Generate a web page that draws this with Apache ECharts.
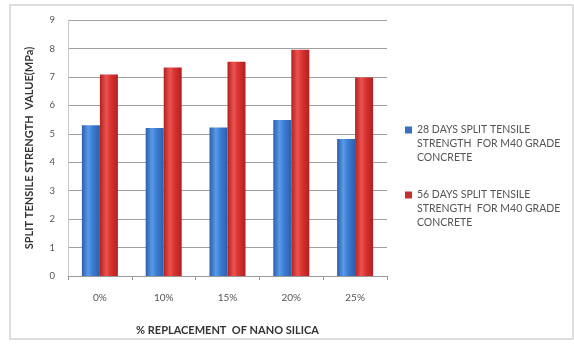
<!DOCTYPE html>
<html>
<head>
<meta charset="utf-8">
<style>
  html, body { margin: 0; padding: 0; background: #fff; }
  #chart { width: 574px; height: 346px; }
</style>
<script src="https://cdn.jsdelivr.net/npm/echarts@6/dist/echarts.min.js"></script>
</head>
<body>
<div id="chart"></div>
<script>
// Replacement levels of nano silica
const categories = ['0%', '10%', '15%', '20%', '25%'];
// Split tensile strength (MPa)
const days28 = [5.3, 5.2, 5.22, 5.48, 4.82];
const days56 = [7.08, 7.33, 7.53, 7.95, 6.98];
const yTicks = [0, 1, 2, 3, 4, 5, 6, 7, 8, 9];

const seriesNames = [
  '28 DAYS SPLIT TENSILE\nSTRENGTH  FOR M40 GRADE\nCONCRETE',
  '56 DAYS SPLIT TENSILE\nSTRENGTH  FOR M40 GRADE\nCONCRETE'
];

function cylinder(dark, mid, light) {
  return new echarts.graphic.LinearGradient(0, 0, 1, 0, [
    { offset: 0, color: dark },
    { offset: 0.35, color: light },
    { offset: 0.6, color: mid },
    { offset: 1, color: dark }
  ]);
}

const font = 'Lato, "Open Sans", sans-serif';

// One legend block per series; two blank lines before the label keep the
// marker level with the first line of the wrapped text.
function legendBlock(name, color, top) {
  return {
    orient: 'vertical',
    left: 400,
    top: top,
    itemWidth: 7,
    itemHeight: 7,
    icon: 'rect',
    formatter: n => '\n\n' + n,
    textStyle: { fontFamily: font, fontSize: 10.5, color: '#555', lineHeight: 14 },
    data: [{ name: name, itemStyle: { color: color } }]
  };
}

const chart = echarts.init(document.getElementById('chart'), null, { renderer: 'canvas' });

chart.setOption({
  backgroundColor: '#fff',
  animation: false,
  textStyle: { fontFamily: font },
  graphic: [{
    type: 'rect',
    shape: { x: 10, y: 5, width: 563, height: 334 },
    style: { fill: 'none', stroke: '#d4d4d4', lineWidth: 1.5 },
    z: -1
  }],
  grid: { left: 68, right: 187, top: 20, bottom: 70 },
  legend: [
    legendBlock(seriesNames[0], '#3b70c0', 90),
    legendBlock(seriesNames[1], '#c8302e', 155)
  ],
  xAxis: {
    type: 'category',
    data: categories,
    name: '% REPLACEMENT  OF NANO SILICA',
    nameLocation: 'middle',
    nameGap: 49,
    nameTextStyle: { fontFamily: font, fontSize: 11, fontWeight: 'bold', color: '#333' },
    axisLine: { lineStyle: { color: '#9a9a9a' } },
    axisTick: { show: true, length: 4, lineStyle: { color: '#9a9a9a' } },
    axisLabel: { margin: 17, fontSize: 10, color: '#555' }
  },
  yAxis: {
    type: 'value',
    min: yTicks[0],
    max: yTicks[yTicks.length - 1],
    interval: 1,
    name: 'SPLIT TENSILE STRENGTH  VALUE(MPa)',
    nameLocation: 'middle',
    nameGap: 33,
    nameTextStyle: { fontFamily: font, fontSize: 11, fontWeight: 'bold', color: '#333' },
    axisLine: { show: true, lineStyle: { color: '#c8c8c8' } },
    axisTick: { show: false },
    axisLabel: { margin: 13, fontSize: 9.5, color: '#555' },
    splitLine: { lineStyle: { color: '#a0a0a0', width: 1 } }
  },
  series: [
    {
      name: seriesNames[0],
      type: 'bar',
      data: days28,
      barWidth: 18,
      barGap: '0%',
      itemStyle: { color: cylinder('#2a5fae', '#3b7dd4', '#5a9ae6') }
    },
    {
      name: seriesNames[1],
      type: 'bar',
      data: days56,
      barWidth: 18,
      barGap: '0%',
      itemStyle: { color: cylinder('#b3201f', '#d83230', '#ea5450') }
    }
  ]
});
</script>
</body>
</html>
